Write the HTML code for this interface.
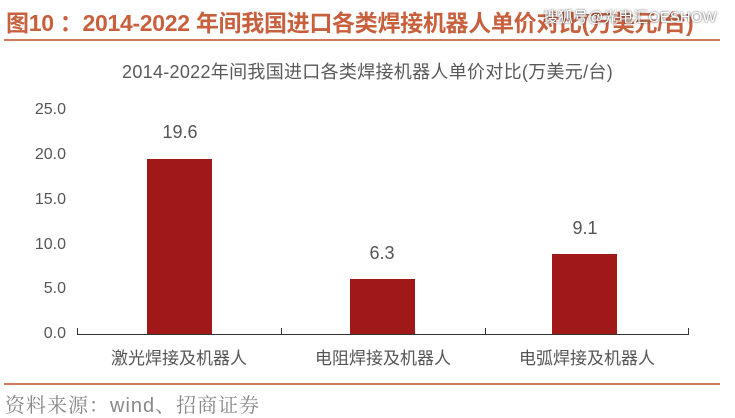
<!DOCTYPE html>
<html><head><meta charset="utf-8"><style>
body{margin:0;width:735px;height:415px;background:#fff;overflow:hidden;position:relative;font-family:"Liberation Sans","Noto Sans CJK SC",sans-serif}
div,span{position:absolute;white-space:nowrap}
.t{color:#555;font-size:17px}
.y{color:#555;font-size:16px;width:42px;text-align:right;left:24px}
.v{color:#555;font-size:18px;width:80px;text-align:center}
.b{background:#a01818}
</style></head><body>
<div style="left:6px;top:4px;font-size:23px;font-weight:bold;color:#c8603e;letter-spacing:-0.3px">图10 ：2014-2022 年间我国进口各类焊接机器人单价对比(万美元/台)</div>
<div style="left:543px;top:6px;font-size:15px;color:#fff;text-shadow:0 0 2px #333">搜狐号@光电汇OESHOW</div>
<div style="left:4px;top:39px;width:716px;height:2px;background:#d07a5c"></div>
<div style="left:0;width:735px;text-align:center;top:58px;font-size:18px;color:#595959;letter-spacing:0.3px">2014-2022年间我国进口各类焊接机器人单价对比(万美元/台)</div>
<div class="y" style="top:101px">25.0</div>
<div class="y" style="top:146px">20.0</div>
<div class="y" style="top:191px">15.0</div>
<div class="y" style="top:236px">10.0</div>
<div class="y" style="top:280px">5.0</div>
<div class="y" style="top:325px">0.0</div>
<div class="b" style="left:147px;top:159px;width:65px;height:176px"></div>
<div class="b" style="left:350px;top:279px;width:65px;height:56px"></div>
<div class="b" style="left:552px;top:254px;width:65px;height:81px"></div>
<div class="v" style="left:140px;top:122px">19.6</div>
<div class="v" style="left:342px;top:243px">6.3</div>
<div class="v" style="left:545px;top:218px">9.1</div>
<div style="left:77px;top:334px;width:612px;height:1px;background:#333"></div>
<div style="left:77px;top:328px;width:1px;height:7px;background:#333"></div>
<div style="left:281px;top:328px;width:1px;height:7px;background:#333"></div>
<div style="left:485px;top:328px;width:1px;height:7px;background:#333"></div>
<div style="left:688px;top:328px;width:1px;height:7px;background:#333"></div>
<div class="t" style="left:77px;width:204px;text-align:center;top:344px">激光焊接及机器人</div>
<div class="t" style="left:281px;width:204px;text-align:center;top:344px">电阻焊接及机器人</div>
<div class="t" style="left:485px;width:204px;text-align:center;top:344px">电弧焊接及机器人</div>
<div style="left:4px;top:383px;width:716px;height:2px;background:#d07a5c"></div>
<div style="left:5px;top:389px;font-size:20px;color:#888;letter-spacing:1px;font-family:'Liberation Sans','Noto Serif CJK SC',serif">资料来源：wind、招商证券</div>
</body></html>
